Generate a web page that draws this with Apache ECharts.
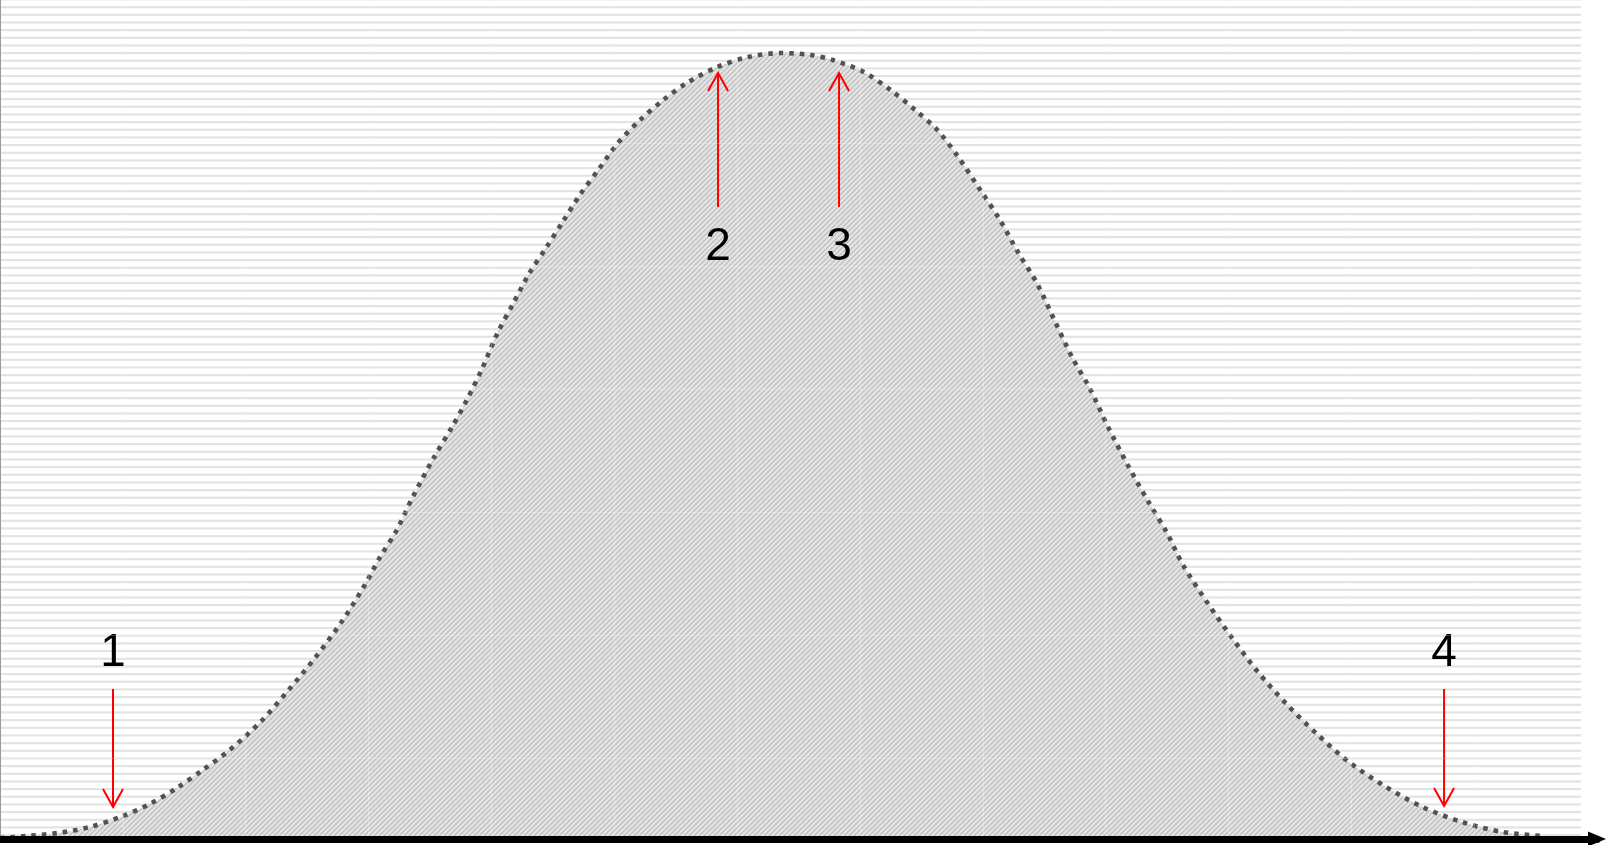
<!DOCTYPE html>
<html>
<head>
<meta charset="utf-8">
<script src="https://cdn.jsdelivr.net/npm/echarts@6/dist/echarts.min.js"></script>
<style>
  html, body { margin: 0; padding: 0; background: #fff; }
  #chart { width: 1606px; height: 845px; }
</style>
</head>
<body>
<div id="chart"></div>
<script>
  // bell curve (x in grid cells, y in hundreds of px above the axis)
  const curveX = [0.00, 0.22, 0.47, 0.73, 0.98, 1.22, 1.44, 1.65, 1.86, 2.12, 2.35, 2.57, 2.78, 2.96,
    3.09, 3.23, 3.36, 3.53, 3.68, 3.80, 3.92, 4.05, 4.18, 4.31, 4.45, 4.58, 4.72, 4.87, 5.03, 5.21,
    5.40, 5.59, 5.84, 6.09, 6.36, 6.60, 6.78, 7.03, 7.25, 7.45, 7.63, 7.80, 7.98, 8.14, 8.29, 8.44,
    8.59, 8.73, 8.87, 9.02, 9.18, 9.34, 9.50, 9.63, 9.83, 10.03, 10.24, 10.48, 10.72, 10.98, 11.27,
    11.58, 11.90, 12.23, 12.55];
  const curveY = [0.01, 0.03, 0.06, 0.12, 0.22, 0.35, 0.51, 0.69, 0.88, 1.17, 1.49, 1.82, 2.17, 2.52,
    2.81, 3.09, 3.42, 3.81, 4.12, 4.39, 4.69, 5.06, 5.36, 5.66, 5.92, 6.17, 6.44, 6.69, 6.96, 7.19,
    7.39, 7.56, 7.72, 7.82, 7.86, 7.84, 7.79, 7.67, 7.49, 7.29, 7.09, 6.82, 6.49, 6.19, 5.86, 5.56,
    5.17, 4.81, 4.51, 4.12, 3.74, 3.39, 3.06, 2.74, 2.36, 2.01, 1.67, 1.34, 1.05, 0.77, 0.53,
    0.32, 0.17, 0.07, 0.03];

  // red markers
  const arrowLabels = ['1', '2', '3', '4'];
  const arrowX = [0.92, 5.845, 6.83, 11.755];
  const arrowTail = [1.50, 6.32, 6.32, 1.50];
  const arrowTip = [0.32, 7.66, 7.66, 0.33];
  const labelY = [1.86, 5.92, 5.92, 1.86];

  // diagonal hatch for the area under the curve
  function makeHatch() {
    const s = 5;
    const c = document.createElement('canvas');
    c.width = s; c.height = s;
    const g = c.getContext('2d');
    g.fillStyle = '#e4e4e4';
    g.fillRect(0, 0, s, s);
    g.strokeStyle = '#bababa';
    g.lineWidth = 1.2;
    g.beginPath();
    g.moveTo(-1, s + 1); g.lineTo(s + 1, -1);
    g.moveTo(-1, 1); g.lineTo(1, -1);
    g.moveTo(s - 1, s + 1); g.lineTo(s + 1, s - 1);
    g.stroke();
    return c;
  }

  // thin horizontal stripes for the background
  function makeStripes() {
    const c = document.createElement('canvas');
    c.width = 4; c.height = 23;
    const g = c.getContext('2d');
    g.fillStyle = '#fff';
    g.fillRect(0, 0, 4, 23);
    g.fillStyle = '#e3e3e3';
    [6, 13.667, 21.333].forEach((p) => {
      g.fillRect(0, p, 4, 2.2);
      g.fillRect(0, p - 23, 4, 2.2);
    });
    return c;
  }

  const chart = echarts.init(document.getElementById('chart'));
  const gridLine = { show: true, lineStyle: { color: 'rgba(255,255,255,0.25)', width: 1 } };

  chart.setOption({
    animation: false,
    graphic: [
      {
        type: 'rect',
        silent: true,
        z: 0,
        shape: { x: 0, y: 0, width: 1581, height: 837 },
        style: { fill: { image: makeStripes(), repeat: 'repeat' } },
      },
    ],
    grid: [
      { left: 0, right: 9, top: 0, bottom: 6, outerBoundsMode: 'none', containLabel: false },
      { left: 0, right: 9, top: 20, bottom: 6, outerBoundsMode: 'none', containLabel: false },
    ],
    xAxis: [
      {
        type: 'value',
        min: 0,
        max: 13,
        interval: 1,
        z: 10,
        axisLabel: { show: false },
        axisTick: { show: false },
        axisLine: {
          show: true,
          symbol: ['none', 'triangle'],
          symbolSize: [15, 18],
          lineStyle: { color: '#000', width: 7 },
        },
        splitLine: gridLine,
      },
      { type: 'value', gridIndex: 1, min: 0, max: 13, show: false },
    ],
    yAxis: [
      {
        type: 'value',
        min: 0,
        max: 8.39,
        z: 10,
        axisLabel: { show: false },
        axisTick: { show: false },
        axisLine: { show: true, lineStyle: { color: '#9a9a9a', width: 1 } },
        splitLine: { show: false },
      },
      {
        type: 'value',
        gridIndex: 1,
        inverse: true,
        min: 0,
        max: 6.659,
        interval: 1,
        z: 10,
        axisLabel: { show: false },
        axisTick: { show: false },
        axisLine: { show: false },
        splitLine: gridLine,
      },
    ],
    series: [
      {
        type: 'line',
        data: curveX.map((x, i) => [x, curveY[i]]),
        showSymbol: false,
        smooth: 0.3,
        z: 2,
        lineStyle: { color: '#525252', width: 4.6, type: [4.5, 6], cap: 'butt' },
        areaStyle: { color: { image: makeHatch(), repeat: 'repeat' }, opacity: 1 },
      },
      {
        type: 'custom',
        z: 4,
        data: arrowX.map((x, i) => [x, arrowTail[i], arrowTip[i], labelY[i]]),
        renderItem: (params, api) => {
          const tail = api.coord([api.value(0), api.value(1)]);
          const tip = api.coord([api.value(0), api.value(2)]);
          const lab = api.coord([api.value(0), api.value(3)]);
          const dir = tip[1] > tail[1] ? 1 : -1;
          return {
            type: 'group',
            children: [
              {
                type: 'line',
                shape: { x1: tail[0], y1: tail[1], x2: tip[0], y2: tip[1] },
                style: { stroke: '#ff0000', lineWidth: 2 },
              },
              {
                type: 'polyline',
                shape: {
                  points: [
                    [tip[0] - 10, tip[1] - dir * 18],
                    [tip[0], tip[1]],
                    [tip[0] + 10, tip[1] - dir * 18],
                  ],
                },
                style: { stroke: '#ff0000', lineWidth: 2, fill: null },
              },
              {
                type: 'text',
                x: lab[0],
                y: lab[1],
                style: {
                  text: arrowLabels[params.dataIndex],
                  fontSize: 46,
                  fontFamily: 'Liberation Sans, Arial, sans-serif',
                  fill: '#000',
                  align: 'center',
                  verticalAlign: 'middle',
                },
              },
            ],
          };
        },
      },
    ],
  });
</script>
</body>
</html>
